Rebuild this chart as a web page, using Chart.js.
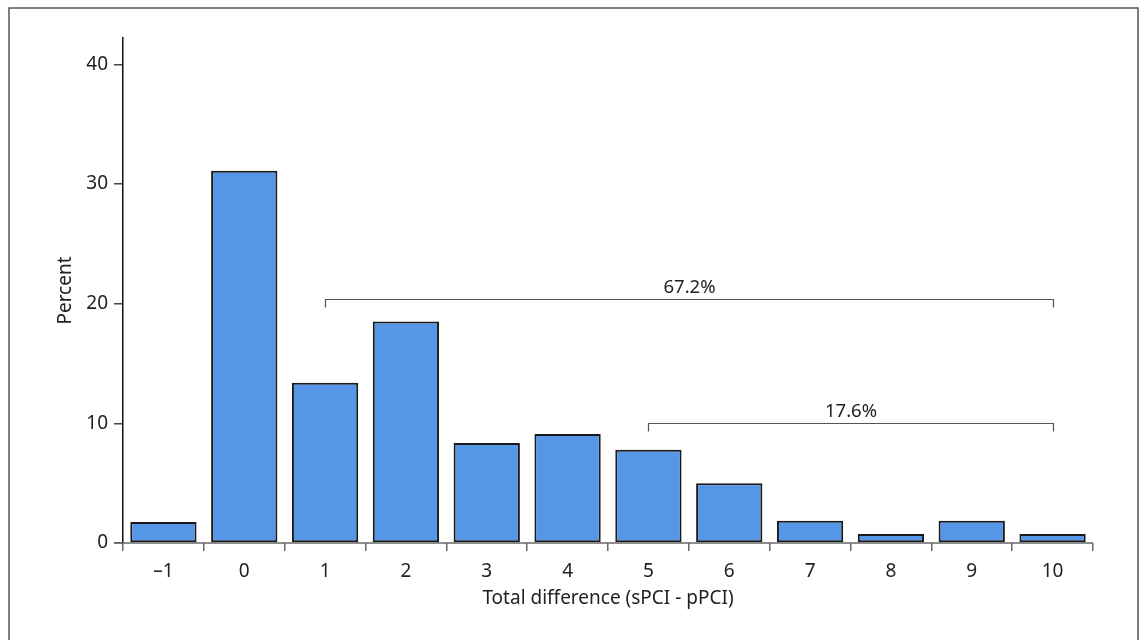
<!DOCTYPE html>
<html>
<head>
<meta charset="utf-8">
<script src="https://cdn.jsdelivr.net/npm/chart.js@4"></script>
<style>
html, body { margin: 0; padding: 0; background: #fff; }
#wrap { width: 1144px; height: 640px; }
</style>
</head>
<body>
<div id="wrap"><canvas id="chart" width="1144" height="640"></canvas></div>
<script>
// data
var categories = ['\u20131', '0', '1', '2', '3', '4', '5', '6', '7', '8', '9', '10'];
var percentValues = [1.75, 31.1, 13.4, 18.5, 8.35, 9.1, 7.8, 5.0, 1.85, 0.75, 1.85, 0.75];
var yTicks = [0, 10, 20, 30, 40];

// brackets over the bars
var bracketFrom = ['1', '5'];
var bracketTo = ['10', '10'];
var bracketLevel = [20.35, 10.0];
var bracketText = ['67.2%', '17.6%'];

var fontFamily = '"Noto Sans", "Open Sans", sans-serif';

var extras = {
	id: 'extras',
	afterDraw: function(chart){
		var ctx = chart.ctx;
		var x = chart.scales.x;
		var y = chart.scales.y;
		ctx.save();
		// outer frame
		ctx.strokeStyle = '#555';
		ctx.lineWidth = 1.5;
		ctx.strokeRect(9, 8, 1129, 650);
		// x axis line reaching out to the 0 tick
		ctx.strokeStyle = '#666';
		ctx.lineWidth = 1.5;
		ctx.beginPath();
		ctx.moveTo(114, y.getPixelForValue(0));
		ctx.lineTo(x.right, y.getPixelForValue(0));
		ctx.stroke();
		// brackets
		ctx.strokeStyle = '#555';
		ctx.lineWidth = 1.2;
		ctx.fillStyle = '#222';
		ctx.font = '18.5px ' + fontFamily;
		ctx.textAlign = 'center';
		ctx.textBaseline = 'bottom';
		for(var i = 0; i < bracketText.length; i++){
			var x1 = Math.round(x.getPixelForValue(categories.indexOf(bracketFrom[i]))) + 0.5;
			var x2 = Math.round(x.getPixelForValue(categories.indexOf(bracketTo[i]))) + 0.5;
			var yy = Math.round(y.getPixelForValue(bracketLevel[i])) + 0.5;
			ctx.beginPath();
			ctx.moveTo(x1, yy + 8);
			ctx.lineTo(x1, yy);
			ctx.lineTo(x2, yy);
			ctx.lineTo(x2, yy + 8);
			ctx.stroke();
			ctx.fillText(bracketText[i], (x1 + x2) / 2, yy - 3);
		}
		ctx.restore();
	}
};

var config = {};
config.type = 'bar';
config.data = {};
config.data.labels = categories;
config.data.datasets = [{
	label: 'Percent',
	data: percentValues,
	backgroundColor: 'rgb(85, 150, 230)',
	borderColor: '#1a1a1a',
	borderWidth: 2,
	borderSkipped: false,
	barPercentage: 0.82,
	categoryPercentage: 1.0
}];
config.options = {
	responsive: false,
	animation: false,
	layout: { padding: { left: 0, right: 51, top: 38, bottom: 0 } },
	plugins: {
		legend: { display: false },
		tooltip: { enabled: false }
	},
	scales: {
		x: {
			border: { display: false },
			grid: { display: true, drawOnChartArea: false, color: '#666', lineWidth: 1.5, tickLength: 8, offset: true },
			ticks: { color: '#222', font: { family: fontFamily, size: 19 }, padding: 9, maxRotation: 0 },
			title: { display: true, text: 'Total difference (sPCI - pPCI)', color: '#222', font: { family: fontFamily, size: 19 }, padding: { top: 0, bottom: 30 } },
			afterFit: function(scale){ scale.height = 640 - 543; }
		},
		y: {
			min: 0,
			max: 42.2,
			border: { display: true, color: '#111', width: 1.5 },
			grid: { display: true, drawOnChartArea: false, color: '#444', lineWidth: 1.5, tickLength: 9 },
			afterBuildTicks: function(scale){ scale.ticks = yTicks.map(function(v){ return { value: v }; }); },
			ticks: { color: '#222', font: { family: fontFamily, size: 19 }, padding: 6 },
			title: { display: true, text: 'Percent', color: '#222', font: { family: fontFamily, size: 19 }, padding: { top: 54, bottom: 0 } },
			afterFit: function(scale){ scale.width = 123; }
		}
	}
};

new Chart(document.getElementById('chart'), { type: config.type, data: config.data, options: config.options, plugins: [extras] });
</script>
</body>
</html>
